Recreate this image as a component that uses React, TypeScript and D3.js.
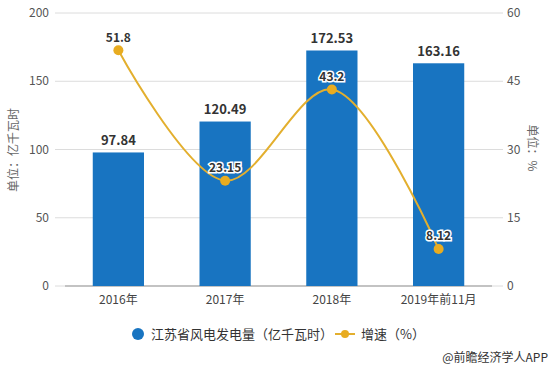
import React from 'react';
import * as d3 from 'd3';

const categories = ['2016年', '2017年', '2018年', '2019年前11月'];
const output = [97.84, 120.49, 172.53, 163.16];
const growth = [51.8, 23.15, 43.2, 8.12];
const leftTicks = [0, 50, 100, 150, 200];
const rightTicks = [0, 15, 30, 45, 60];

const W = 555;
const H = 370;
const font = '"Microsoft YaHei", "Noto Sans CJK SC", sans-serif';

export default function App() {
  const x = d3.scaleBand<string>().domain(categories).range([65, 492]).paddingInner(0.52).paddingOuter(0.26);
  const xc = (c: string) => (x(c) || 0) + x.bandwidth() / 2;
  const yL = d3.scaleLinear().domain([0, 200]).range([286, 13]);
  const yR = d3.scaleLinear().domain([0, 60]).range([286, 13]);

  // smooth growth curve
  const line = d3
    .line<number>()
    .x((_, i) => xc(categories[i]))
    .y((d) => yR(d))
    .curve(d3.curveCatmullRom.alpha(0.5));

  return (
    <svg
      width={W}
      height={H}
      style={{ position: 'absolute', left: 0, top: 0, background: '#fff', fontFamily: font }}
    >
      {/* grid + axes */}
      {leftTicks.map((t) => (
        <g key={t}>
          <line x1={55} x2={503} y1={yL(t)} y2={yL(t)} stroke="#dcdcdc" strokeWidth={1} />
          <text x={49} y={yL(t)} dy="0.35em" textAnchor="end" fontSize={12} fill="#555">
            {t}
          </text>
        </g>
      ))}
      {rightTicks.map((t) => (
        <text key={t} x={507} y={yR(t)} dy="0.35em" fontSize={12} fill="#555">
          {t}
        </text>
      ))}
      <line x1={65} x2={492} y1={286} y2={286} stroke="#999" />
      <text transform="translate(18,150) rotate(-90)" textAnchor="middle" fontSize={12} fill="#666">
        单位：亿千瓦时
      </text>
      <text transform="translate(528,148) rotate(90)" textAnchor="middle" fontSize={12} fill="#666">
        单位：%
      </text>

      {/* bars */}
      {categories.map((c, i) => (
        <g key={c}>
          <rect x={x(c)} y={yL(output[i])} width={x.bandwidth()} height={286 - yL(output[i])} fill="#1874c1" />
          <text x={xc(c)} y={yL(output[i]) - 12} dy="0.35em" textAnchor="middle" fontSize={13} fontWeight="bold" fill="#333">
            {output[i]}
          </text>
          <text x={xc(c)} y={300} dy="0.35em" textAnchor="middle" fontSize={12} fill="#444">
            {c}
          </text>
        </g>
      ))}

      {/* growth line */}
      <path d={line(growth) || ''} fill="none" stroke="#e3af2e" strokeWidth={2} />
      {growth.map((g, i) => (
        <g key={i}>
          <circle cx={xc(categories[i])} cy={yR(g)} r={5} fill="#e8ac21" />
          <text
            x={xc(categories[i])}
            y={yR(g) - 13}
            dy="0.35em"
            textAnchor="middle"
            fontSize={12}
            fontWeight="bold"
            fill="#333"
            stroke="#fff"
            strokeWidth={3}
            paintOrder="stroke"
          >
            {g}
          </text>
        </g>
      ))}

      {/* legend */}
      <circle cx={138} cy={334} r={6} fill="#1874c1" />
      <text x={151} y={334} dy="0.35em" fontSize={13} fill="#333">
        江苏省风电发电量（亿千瓦时）
      </text>
      <line x1={335} x2={355} y1={334} y2={334} stroke="#e3af2e" strokeWidth={2} />
      <circle cx={345} cy={334} r={4} fill="#e8ac21" />
      <text x={361} y={334} dy="0.35em" fontSize={13} fill="#333">
        增速（%）
      </text>

      <text x={548} y={358} dy="0.35em" textAnchor="end" fontSize={12} fill="#333">
        @前瞻经济学人APP
      </text>
    </svg>
  );
}
